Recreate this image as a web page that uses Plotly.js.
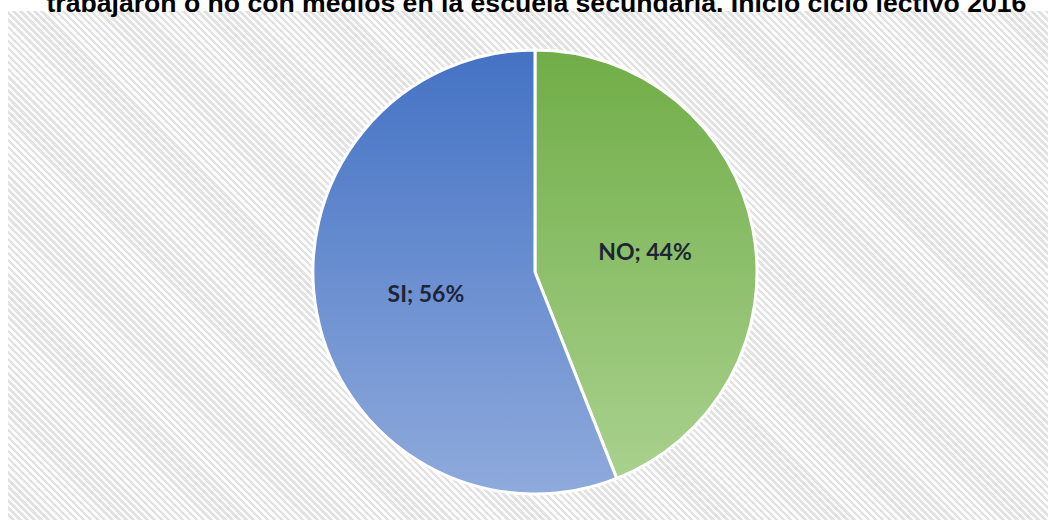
<!DOCTYPE html>
<html>
<head>
<meta charset="utf-8">
<script src="https://cdn.plot.ly/plotly-3.0.1.min.js"></script>
<style>
  html, body { margin: 0; padding: 0; background: #ffffff; }
  #wrap { position: relative; width: 1056px; height: 520px; overflow: hidden; background: #ffffff; }
  #hatch { position: absolute; left: 8px; top: 11px; width: 1040px; height: 509px;
    background: repeating-linear-gradient(45deg, #fcfcfc 0px, #fcfcfc 2.5px, #e2e2e2 2.5px, #e2e2e2 5px); }
  #chart { position: absolute; left: 0; top: 0; width: 1056px; height: 520px; }
  .pielayer .trace .slice:nth-of-type(1) path.surface { fill: url(#gGreen) !important; }
  .pielayer .trace .slice:nth-of-type(2) path.surface { fill: url(#gBlue) !important; }
</style>
</head>
<body>
<svg width="0" height="0" style="position:absolute">
  <defs>
    <linearGradient id="gBlue" x1="0" y1="0" x2="0" y2="1">
      <stop offset="0" stop-color="#4472C4"/>
      <stop offset="1" stop-color="#8FAADC"/>
    </linearGradient>
    <linearGradient id="gGreen" x1="0" y1="0" x2="0" y2="1">
      <stop offset="0" stop-color="#70AD47"/>
      <stop offset="1" stop-color="#A9D18E"/>
    </linearGradient>
  </defs>
</svg>
<div id="wrap">
  <div id="hatch"></div>
  <div id="chart"></div>
</div>
<script>
const categories = ["NO", "SI"];
const values = [44, 56];
const sliceColors = ["#8DBF6A", "#6A8ED0"];
const titleText = "trabajaron o no con medios en la escuela secundaria. Inicio ciclo lectivo 2016";

const trace = {
  type: "pie",
  labels: categories,
  values: values,
  sort: false,
  direction: "clockwise",
  rotation: 0,
  texttemplate: "%{label}; %{value}%",
  textposition: "inside",
  insidetextorientation: "horizontal",
  textfont: { family: "Lato, 'Open Sans', sans-serif", size: 23, color: "#1e2536", weight: 700 },
  marker: { colors: sliceColors, line: { color: "#ffffff", width: 3 } },
  domain: { x: [0.0132, 1], y: [0.05, 0.904] },
  hoverinfo: "none"
};

const layout = {
  width: 1056,
  height: 520,
  margin: { l: 0, r: 0, t: 0, b: 0 },
  paper_bgcolor: "rgba(0,0,0,0)",
  plot_bgcolor: "rgba(0,0,0,0)",
  showlegend: false,
  title: {
    text: "<b>" + titleText + "</b>",
    font: { family: "'Liberation Sans', Arial, sans-serif", size: 26.6, color: "#000000" },
    x: 0.508, xanchor: "center",
    yref: "container", y: 0.995, yanchor: "middle"
  }
};

Plotly.newPlot("chart", [trace], layout, { displayModeBar: false, staticPlot: true });
</script>
</body>
</html>
